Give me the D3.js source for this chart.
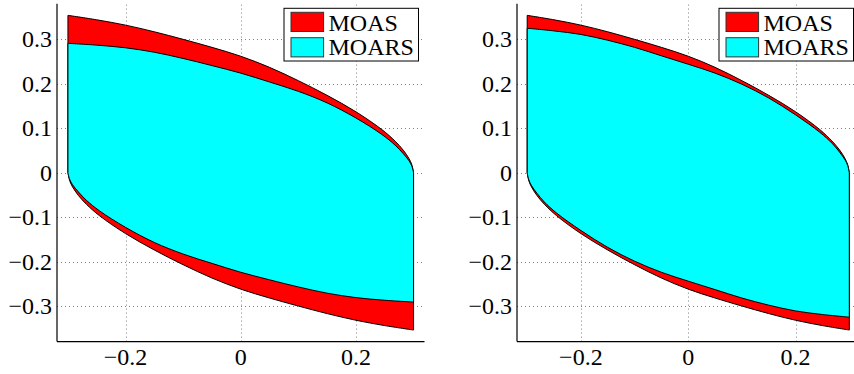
<!DOCTYPE html>
<html>
<head>
<meta charset="utf-8">
<script src="https://cdn.jsdelivr.net/npm/d3@7"></script>
<style>
  html, body { margin: 0; padding: 0; background: #fff; }
  svg { display: block; }
</style>
</head>
<body>
<svg id="fig" width="854" height="374"></svg>
<script>
// Upper boundary of the maximal output admissible set (both panels)
const moasUpperX = [-0.3, -0.25, -0.2, -0.15, -0.1, -0.05, 0, 0.05, 0.1, 0.15, 0.2, 0.245, 0.268, 0.282, 0.292, 0.297, 0.3];
const moasUpperY = [0.354, 0.344, 0.332, 0.317, 0.300, 0.282, 0.262, 0.237, 0.207, 0.174, 0.137, 0.097, 0.071, 0.051, 0.032, 0.018, 0];
// Lower boundary of the MOAS
const moasLowerX = [-0.3, -0.297, -0.292, -0.282, -0.268, -0.245, -0.2, -0.15, -0.1, -0.05, 0, 0.05, 0.1, 0.15, 0.2, 0.25, 0.3];
const moasLowerY = [0, -0.018, -0.032, -0.051, -0.071, -0.097, -0.137, -0.174, -0.207, -0.237, -0.262, -0.282, -0.300, -0.317, -0.332, -0.344, -0.354];

// MOARS, left panel
const moarsUpperXA = [-0.3, -0.25, -0.2, -0.15, -0.1, -0.05, 0, 0.05, 0.1, 0.15, 0.2, 0.245, 0.268, 0.282, 0.292, 0.297, 0.3];
const moarsUpperYA = [0.291, 0.287, 0.281, 0.271, 0.257, 0.241, 0.224, 0.204, 0.183, 0.157, 0.123, 0.086, 0.062, 0.043, 0.027, 0.015, 0];
const moarsLowerXA = [-0.3, -0.297, -0.292, -0.282, -0.268, -0.245, -0.2, -0.15, -0.1, -0.05, 0, 0.05, 0.1, 0.15, 0.2, 0.25, 0.3];
const moarsLowerYA = [0, -0.015, -0.027, -0.043, -0.062, -0.086, -0.123, -0.157, -0.183, -0.204, -0.224, -0.241, -0.257, -0.271, -0.281, -0.287, -0.291];

// MOARS, right panel
const moarsUpperXB = [-0.3, -0.25, -0.2, -0.15, -0.1, -0.05, 0, 0.05, 0.1, 0.15, 0.2, 0.245, 0.268, 0.282, 0.292, 0.297, 0.3];
const moarsUpperYB = [0.325, 0.319, 0.311, 0.298, 0.282, 0.263, 0.244, 0.224, 0.199, 0.168, 0.130, 0.091, 0.066, 0.046, 0.029, 0.016, 0];
const moarsLowerXB = [-0.3, -0.297, -0.292, -0.282, -0.268, -0.245, -0.2, -0.15, -0.1, -0.05, 0, 0.05, 0.1, 0.15, 0.2, 0.25, 0.3];
const moarsLowerYB = [0, -0.016, -0.029, -0.046, -0.066, -0.091, -0.130, -0.168, -0.199, -0.224, -0.244, -0.263, -0.282, -0.298, -0.311, -0.319, -0.325];

const xTicks = [-0.2, 0, 0.2];
const yTicks = [-0.3, -0.2, -0.1, 0, 0.1, 0.2, 0.3];
const legendLabels = ["MOAS", "MOARS"];
const seriesColors = ["#ff0000", "#00ffff"];

const xDomain = [-0.319, 0.319];
const yDomain = [-0.38, 0.38];

const FONT = "Liberation Serif";
const svg = d3.select("#fig").attr("font-family", FONT);
const fmt = d => (d === 0 ? "0" : d3.format(".1f")(d)).replace("-", "\u2212");

const panels = [
  { left: 57, right: 424.5,
    ux: moarsUpperXA, uy: moarsUpperYA, lx: moarsLowerXA, ly: moarsLowerYA },
  { left: 517, right: 859.5,
    ux: moarsUpperXB, uy: moarsUpperYB, lx: moarsLowerXB, ly: moarsLowerYB }
];

const plotTop = 3.8, plotBottom = 341.6;

panels.forEach(p => {
  const x = d3.scaleLinear().domain(xDomain).range([p.left, p.right]);
  const y = d3.scaleLinear().domain(yDomain).range([plotBottom, plotTop]);
  const g = svg.append("g");

  // dotted grid
  const grid = g.append("g").attr("stroke", "#7f7f7f").attr("stroke-width", 1)
    .attr("stroke-dasharray", "1,3");
  grid.selectAll("line.v").data(xTicks).join("line")
    .attr("x1", d => Math.round(x(d)) + 0.5).attr("x2", d => Math.round(x(d)) + 0.5)
    .attr("y1", plotBottom).attr("y2", plotTop);
  grid.selectAll("line.h").data(yTicks).join("line")
    .attr("y1", d => Math.round(y(d)) + 0.5).attr("y2", d => Math.round(y(d)) + 0.5)
    .attr("x1", p.left).attr("x2", p.right);

  // closed region: upper curve left->right, vertical edge, lower curve right->left
  const line = d3.line().x(d => x(d[0])).y(d => y(d[1])).curve(d3.curveCatmullRom.alpha(0.5));
  const region = (ux, uy, lx, ly) => {
    const up = ux.map((v, i) => [v, uy[i]]);
    const lo = lx.map((v, i) => [v, ly[i]]).reverse();
    return line(up) + "L" + line(lo).slice(1) + "Z";
  };

  g.append("path").attr("d", region(moasUpperX, moasUpperY, moasLowerX, moasLowerY))
    .attr("fill", seriesColors[0]).attr("stroke", "#000").attr("stroke-width", 1)
    .attr("stroke-linejoin", "round");
  g.append("path").attr("d", region(p.ux, p.uy, p.lx, p.ly))
    .attr("fill", seriesColors[1]).attr("stroke", "#000").attr("stroke-width", 1)
    .attr("stroke-linejoin", "round");

  // axes lines
  g.append("line").attr("x1", p.left).attr("x2", p.left).attr("y1", plotTop).attr("y2", plotBottom)
    .attr("stroke", "#000").attr("stroke-width", 1.2);
  g.append("line").attr("x1", p.left).attr("x2", p.right).attr("y1", plotBottom).attr("y2", plotBottom)
    .attr("stroke", "#000").attr("stroke-width", 1.2);

  // tick labels
  g.selectAll("text.yt").data(yTicks).join("text")
    .attr("x", p.left - 5).attr("y", d => y(d) + 8)
    .attr("text-anchor", "end").attr("font-size", 24).text(fmt);
  g.selectAll("text.xt").data(xTicks).join("text")
    .attr("x", d => x(d)).attr("y", 365)
    .attr("text-anchor", "middle").attr("font-size", 24).text(fmt);

  // legend
  const lw = 134.5, lh = 52.7;
  const lgx = p.right - 6 - lw, lgy = 8.3;
  const lg = g.append("g").attr("transform", `translate(${lgx},${lgy})`);
  lg.append("rect").attr("width", lw).attr("height", lh)
    .attr("fill", "#fff").attr("stroke", "#000").attr("stroke-width", 1);
  legendLabels.forEach((lab, i) => {
    lg.append("rect").attr("x", 7).attr("y", 4 + i * 25.4).attr("width", 32.6).attr("height", 19.2)
      .attr("fill", seriesColors[i]).attr("stroke", "#333").attr("stroke-width", 1);
    lg.append("text").attr("x", 44.5).attr("y", 22.4 + i * 24.6)
      .attr("font-size", 24).text(lab);
  });
});
</script>
</body>
</html>
